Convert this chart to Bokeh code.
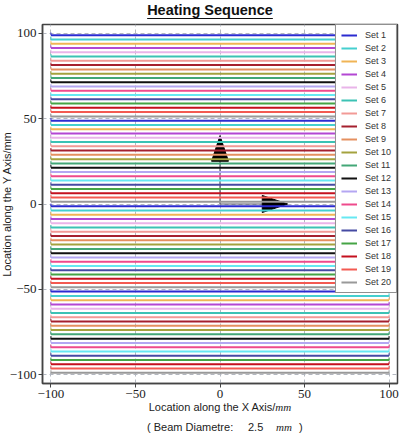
from bokeh.plotting import figure
from bokeh.models import (Range1d, FixedTicker, Legend, LegendItem, Div,
                          CustomJSTickFormatter)
from bokeh.layouts import column
from bokeh.embed import file_html
from bokeh.resources import INLINE

# ---- heating sequence data -------------------------------------------------
beam_diameter = 2.5          # mm
scan_start = -100.0          # mm, start of every scan line along X
scan_end = 100.0             # mm, end of every scan line along X

set_names = [f"Set {i}" for i in range(1, 21)]

set_colors = [
    "#2b2bd0", "#45cfcf", "#f0b455", "#b347d3", "#e9b4e9",
    "#3cc2b4", "#f29a96", "#a5202e", "#e59060", "#a4a23e",
    "#43a777", "#111111", "#b4a6f2", "#ee4a8c", "#66e8f2",
    "#454aa2", "#45a445", "#c4101e", "#f35a52", "#999999",
]

# Y position (mm) of each scan line belonging to a set
set_y = [
    [98.75, 48.75, -1.25, -51.25],
    [96.25, 46.25, -3.75, -53.75],
    [93.75, 43.75, -6.25, -56.25],
    [91.25, 41.25, -8.75, -58.75],
    [88.75, 38.75, -11.25, -61.25],
    [86.25, 36.25, -13.75, -63.75],
    [83.75, 33.75, -16.25, -66.25],
    [81.25, 31.25, -18.75, -68.75],
    [78.75, 28.75, -21.25, -71.25],
    [76.25, 26.25, -23.75, -73.75],
    [73.75, 23.75, -26.25, -76.25],
    [71.25, 21.25, -28.75, -78.75],
    [68.75, 18.75, -31.25, -81.25],
    [66.25, 16.25, -33.75, -83.75],
    [63.75, 13.75, -36.25, -86.25],
    [61.25, 11.25, -38.75, -88.75],
    [58.75, 8.75, -41.25, -91.25],
    [56.25, 6.25, -43.75, -93.75],
    [53.75, 3.75, -46.25, -96.25],
    [51.25, 1.25, -48.75, -98.75],
]

axis_ticks = [-100, -50, 0, 50, 100]

# direction arrows: origin, length, head geometry (mm)
arrow_origin = (0.0, 0.0)
arrow_length = 40.0
head_length = 15.0
head_width = 10.0

W = 403
SHIFT = 6            # figure hangs this far past the left page edge
TITLE_H = 22
FIG_H = 382
NOTE_H = 31

# ---- title -----------------------------------------------------------------
title_div = Div(
    width=W, height=TITLE_H, margin=(0, 0, 0, 0),
    text=('<div style="position:relative;width:403px;height:22px;">'
          '<div style="position:absolute;left:0;top:2px;width:420px;'
          'text-align:center;font-family:\'Liberation Sans\';font-weight:bold;'
          'font-size:14.5px;line-height:16px;color:#111;">'
          '<span style="text-decoration:underline;text-underline-offset:3px;">'
          'Heating Sequence</span></div></div>'))

# ---- figure ----------------------------------------------------------------
p = figure(width=W + 2 * SHIFT, height=FIG_H, output_backend="svg",
           toolbar_location=None, margin=(0, 0, 0, -SHIFT),
           x_range=Range1d(-105, 105), y_range=Range1d(-105, 105),
           min_border_left=42 + SHIFT, min_border_right=6, min_border_top=2,
           min_border_bottom=21)
p.background_fill_color = "white"
p.border_fill_color = "white"
p.outline_line_color = "#444444"
p.outline_line_width = 1.5

for ax in (p.xaxis[0], p.yaxis[0]):
    ax.ticker = FixedTicker(ticks=axis_ticks)
    ax.formatter = CustomJSTickFormatter(
        code="return tick < 0 ? '\u2212' + Math.abs(tick) : String(tick);")
    ax.minor_tick_line_color = None
    ax.major_tick_in = 0
    ax.major_tick_out = 4
    ax.major_tick_line_color = "#444444"
    ax.axis_line_color = "#444444"
    ax.axis_line_width = 1.5
    ax.major_label_text_font = "Liberation Serif"
    ax.major_label_text_font_size = "13px"
    ax.major_label_text_color = "#222222"
p.xaxis.major_label_standoff = 2
p.yaxis.major_label_standoff = 2

p.yaxis.axis_label = "Location along the Y Axis/mm"
p.yaxis.axis_label_text_font = "Liberation Sans"
p.yaxis.axis_label_text_font_style = "normal"
p.yaxis.axis_label_text_font_size = "11px"
p.yaxis.axis_label_text_color = "#222222"
p.yaxis.axis_label_standoff = -6

for g in (p.xgrid[0], p.ygrid[0]):
    g.ticker = FixedTicker(ticks=axis_ticks)
    g.grid_line_color = "#b4b8c0"
    g.grid_line_dash = "4 3"
    g.grid_line_width = 1

# ---- arrows (drawn under the scan lines) -----------------------------------
ox, oy = arrow_origin
shaft_end = arrow_length - head_length
p.segment(x0=[ox, ox], y0=[oy, oy], x1=[ox + shaft_end, ox], y1=[oy, oy + shaft_end],
          line_color="#555566", line_width=1.2)
p.patches(
    xs=[[ox + shaft_end, ox + arrow_length, ox + shaft_end],
        [ox - head_width / 2, ox, ox + head_width / 2]],
    ys=[[oy - head_width / 2, oy, oy + head_width / 2],
        [oy + shaft_end, oy + arrow_length, oy + shaft_end]],
    fill_color="black", line_color="black", line_width=1)

# ---- scan lines, one renderer per set --------------------------------------
stub = beam_diameter * 0.6
items = []
for name, color, ys in zip(set_names, set_colors, set_y):
    r = p.multi_line(xs=[[scan_start, scan_end] for _ in ys],
                     ys=[[y, y] for y in ys],
                     line_color=color, line_width=2.0)
    p.segment(x0=[scan_start] * len(ys) + [scan_end] * len(ys),
              y0=ys + ys,
              x1=[scan_start] * len(ys) + [scan_end] * len(ys),
              y1=[y + stub for y in ys] * 2,
              line_color=color, line_width=1.0)
    items.append(LegendItem(label=name, renderers=[r]))

legend = Legend(items=items, location="top_right", margin=0,
                padding=5, spacing=3, glyph_width=16, glyph_height=10,
                label_height=10, label_standoff=8,
                label_text_font="Liberation Sans", label_text_font_size="9px",
                label_text_color="#333333",
                border_line_color="#222222", border_line_width=1,
                background_fill_color="white", background_fill_alpha=1.0)
p.add_layout(legend, "center")

# ---- x axis label and beam note --------------------------------------------
serif_mm = ('<span style="font-family:\'Liberation Serif\';'
            'font-style:italic;">mm</span>')
note_div = Div(
    width=W, height=NOTE_H, margin=(0, 0, 0, 0),
    text=('<div style="position:relative;width:403px;height:31px;'
          'font-family:\'Liberation Sans\';font-size:11px;color:#222;'
          'line-height:14px;white-space:nowrap;">'
          '<div style="position:absolute;left:0;top:-4px;width:440px;'
          'text-align:center;">'
          f'Location along the X Axis/{serif_mm}</div>'
          '<div style="position:absolute;left:147px;top:16px;">( Beam Diametre:</div>'
          f'<div style="position:absolute;left:248px;top:16px;">{beam_diameter}</div>'
          f'<div style="position:absolute;left:276px;top:16px;">{serif_mm}</div>'
          '<div style="position:absolute;left:299px;top:16px;">)</div>'
          '</div>'))

layout = column(title_div, p, note_div, spacing=0)

open("out.html", "w").write(file_html(layout, INLINE))
